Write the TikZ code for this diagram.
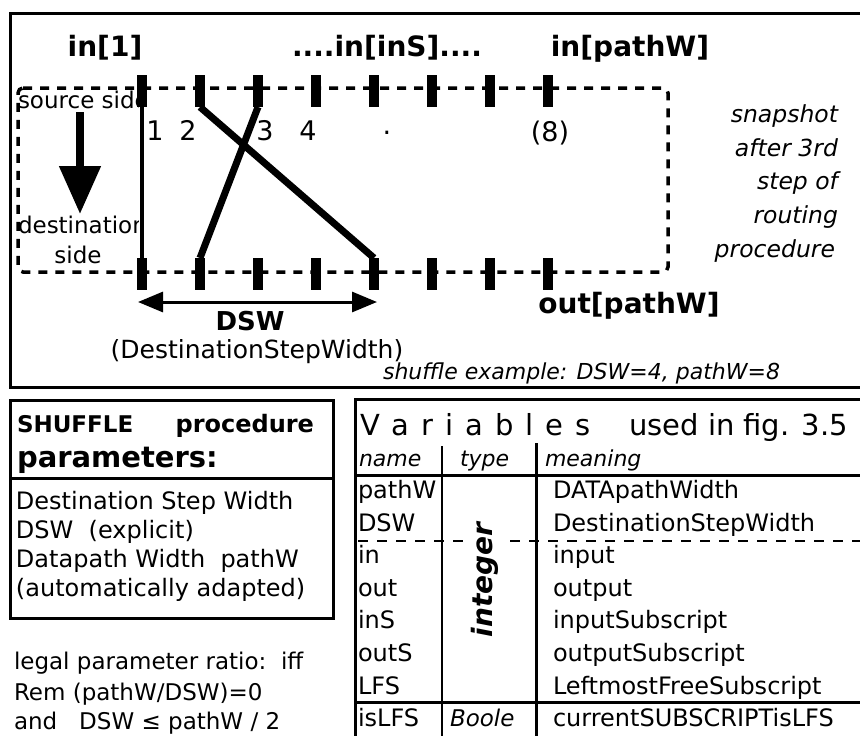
\documentclass[tikz,border=0pt]{standalone}
\usepackage{fontspec}
\setmainfont{DejaVu Sans}
\usetikzlibrary{arrows.meta}

\newcommand{\pxsize}[1]{\fontsize{#1}{#1}\selectfont}

\tikzset{
  frame/.style={line width=3pt},
  channel/.style={line width=3.5pt, dash pattern=on 9pt off 8pt},
  tickbar/.style={draw=none, fill=black, minimum width=10pt, minimum height=32pt, inner sep=0pt, outer sep=0pt},
  wire/.style={line width=7pt},
  thinwire/.style={line width=4pt},
  lbl/.style={inner sep=0pt, outer sep=0pt},
  heavy/.style={lbl, font=\pxsize{28}\bfseries},
  plain/.style={lbl, font=\pxsize{24}},
  digit/.style={lbl, font=\pxsize{27}},
  remark/.style={lbl, font=\pxsize{23.5}\itshape},
  cell/.style={lbl, font=\pxsize{24}},
  hdr/.style={lbl, font=\pxsize{22}\itshape},
  bigtip/.style={-{Triangle[length=48pt,width=40pt]}},
  spantip/.style={{Triangle[length=25pt,width=20pt]}-{Triangle[length=25pt,width=20pt]}},
}

\begin{document}
\begin{tikzpicture}[x=1pt,y=-1pt]
\useasboundingbox (0,0) rectangle (860,736);
\fill[white] (0,0) rectangle (860,736);

% ---------- upper panel ----------
\draw[frame] (866,13) -- (10,13) -- (10,387) -- (866,387);

% dashed routing channel
\draw[channel, rounded corners=5pt] (18,88) -- (668,88) -- (668,272) -- (18,272) -- cycle;

% side labels, partly hidden by the first wire
\begin{scope}
  \clip (12,80) rectangle (138,300);
  \node[plain, font=\pxsize{23}, anchor=base west] (lsrc) at (18,108) {source side};
  \node[plain, font=\pxsize{23}, anchor=base west] (ldst) at (18,233) {destination};
\end{scope}
\node[plain, font=\pxsize{23}, anchor=base] (lside) at (78,263) {side};

% source -> destination arrow
\coordinate (srcA) at (80,112);
\coordinate (srcB) at (80,214);
\draw[line width=8pt, bigtip] (srcA) -- (srcB);

% subscript ticks on source and destination side
\foreach \i in {1,...,8}{
  \node[tickbar] (s\i) at ({142+58*(\i-1)},91) {};
  \node[tickbar] (d\i) at ({142+58*(\i-1)},274) {};
}

% routed wires
\draw[thinwire] (s1.center) -- (d1.center);
\draw[wire] (s2.south) -- (d5.north);
\draw[wire] (s3.south) -- (d2.north);

% port labels
\node[heavy, anchor=base] (lin1) at (105,56) {in[1]};
\node[heavy, anchor=base] (linS) at (387,56) {....in[inS]....};
\node[heavy, anchor=base] (linW) at (630,56) {in[pathW]};
\node[heavy, anchor=base] (loutW) at (629,313) {out[pathW]};

% wire numbers
\node[digit, anchor=base] (c1) at (155,140) {1};
\node[digit, anchor=base] (c2) at (188,140) {2};
\node[digit, anchor=base] (c3) at (265,140) {3};
\node[digit, anchor=base] (c4) at (308,140) {4};
\node[digit, anchor=base] (cdot) at (387,134) {.};
\node[digit, anchor=base] (c8) at (550,141) {(8)};

% destination step width
\coordinate (dswL) at (138,302);
\coordinate (dswR) at (377,302);
\draw[line width=3pt, spantip] (dswL) -- (dswR);
\node[lbl, font=\pxsize{26}\bfseries, anchor=base] (ldsw) at (250,330) {DSW};
\node[lbl, font=\pxsize{25}, anchor=base] (ldswlong) at (257,358) {(DestinationStepWidth)};
\node[lbl, font=\pxsize{22}\itshape, anchor=base east] (lexample) at (780,379) {shuffle example: DSW=4, pathW=8};

% snapshot note
\node[remark, anchor=base east] (nt1) at (838,122) {snapshot};
\node[remark, anchor=base east] (nt2) at (838,156) {after 3rd};
\node[remark, anchor=base east] (nt3) at (838,189) {step of};
\node[remark, anchor=base east] (nt4) at (838,223) {routing};
\node[remark, anchor=base east] (nt5) at (835,257) {procedure};

% ---------- parameter box ----------
\draw[frame] (10,400) rectangle (333,618);
\draw[frame] (10,478) -- (333,478);
\node[lbl, font=\pxsize{23}\bfseries, anchor=base west] (pSh) at (17,432) {SHUFFLE};
\node[lbl, font=\pxsize{24}\bfseries, anchor=base east] (pProc) at (314,432) {procedure};
\node[lbl, font=\pxsize{29}\bfseries, anchor=base west] (pPar) at (17,467) {parameters:};
\node[plain, anchor=base west] (pL1) at (16,509) {Destination Step Width};
\node[plain, anchor=base west] (pL2) at (16,538) {DSW\ \ (explicit)};
\node[plain, anchor=base west] (pL3) at (16,567) {Datapath Width\ \ pathW};
\node[plain, anchor=base west] (pL4) at (16,596) {(automatically adapted)};

\node[plain, font=\pxsize{23}, anchor=base west] (rL1) at (14,669) {legal parameter ratio:\ \ iff};
\node[plain, font=\pxsize{23}, anchor=base west] (rL2) at (14,700) {Rem (pathW/DSW)=0};
\node[plain, font=\pxsize{23}, anchor=base west] (rL3) at (14,729) {and\ \ \ DSW ≤ pathW / 2};

% ---------- variables table ----------
\draw[frame] (866,399) -- (355,399) -- (355,745);
\draw[frame] (355,475) -- (866,475);
\draw[frame] (355,702) -- (866,702);
\draw[frame] (536,443) -- (536,745);
\draw[line width=2pt] (442,446) -- (442,745);
\draw[line width=2.5pt, dash pattern=on 10pt off 9pt] (358,541) -- (862,541);

\node[lbl, font=\pxsize{29}, anchor=base west] (tV) at (360,435)
  {V\hspace{12pt}a\hspace{12pt}r\hspace{12pt}i\hspace{12pt}a\hspace{12pt}b\hspace{12pt}l\hspace{12pt}e\hspace{12pt}s};
\node[lbl, font=\pxsize{29}, anchor=base east] (tU) at (848,435) {used in fig. 3.5};

\node[hdr, anchor=base west] (hN) at (359,466) {name};
\node[hdr, anchor=base west] (hT) at (460,466) {type};
\node[hdr, anchor=base west] (hM) at (545,466) {meaning};

\node[cell, anchor=base west] (v1) at (358,498) {pathW};
\node[cell, anchor=base west] (v2) at (358,531) {DSW};
\node[cell, anchor=base west] (v3) at (358,563) {in};
\node[cell, anchor=base west] (v4) at (358,596) {out};
\node[cell, anchor=base west] (v5) at (358,628) {inS};
\node[cell, anchor=base west] (v6) at (358,661) {outS};
\node[cell, anchor=base west] (v7) at (358,694) {LFS};
\node[cell, anchor=base west] (v8) at (358,726) {isLFS};

\node[cell, anchor=base west] (m1) at (553,498) {DATApathWidth};
\node[cell, anchor=base west] (m2) at (553,531) {DestinationStepWidth};
\node[cell, anchor=base west] (m3) at (553,563) {input};
\node[cell, anchor=base west] (m4) at (553,596) {output};
\node[cell, anchor=base west] (m5) at (553,628) {inputSubscript};
\node[cell, anchor=base west] (m6) at (553,661) {outputSubscript};
\node[cell, anchor=base west] (m7) at (553,694) {LeftmostFreeSubscript};
\node[cell, anchor=base west] (m8) at (553,726) {currentSUBSCRIPTisLFS};

\node[lbl, font=\pxsize{28}\bfseries\itshape, rotate=90, fill=white, inner sep=3pt] (tInt) at (485,580) {integer};
\node[hdr, font=\pxsize{23}\itshape, anchor=base west] (tB) at (450,726) {Boole};

\end{tikzpicture}
\end{document}
